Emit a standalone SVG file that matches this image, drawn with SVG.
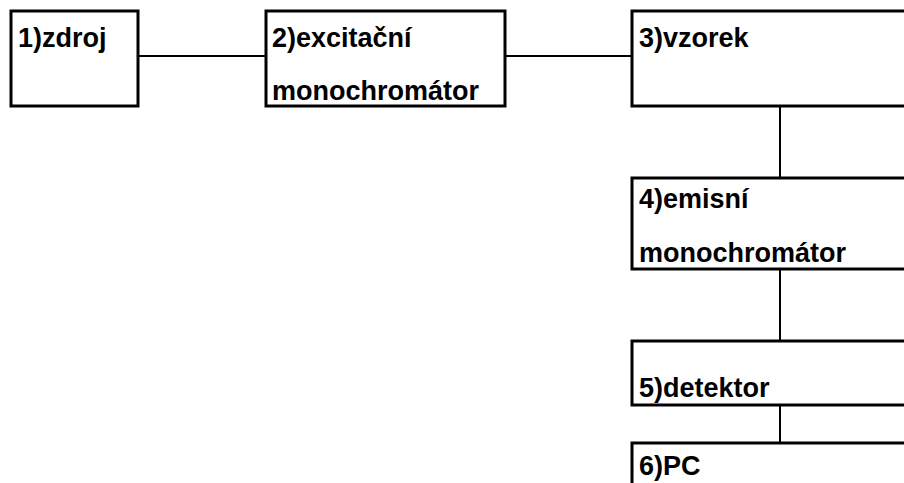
<svg xmlns="http://www.w3.org/2000/svg" width="904" height="483" viewBox="0 0 904 483">
<style>
.box{fill:#fff;stroke:#000;stroke-width:3}
.ln{stroke:#000;stroke-width:2;fill:none}
text{font-family:"Liberation Sans",Arial,sans-serif;font-weight:bold;font-size:27px;fill:#000}
</style>
<rect width="904" height="483" fill="#fff"/>
<g id="connectors">
<line class="ln" x1="138" y1="56" x2="265" y2="56"/>
<line class="ln" x1="505" y1="56" x2="632" y2="56"/>
<line class="ln" x1="780" y1="106" x2="780" y2="178"/>
<line class="ln" x1="780" y1="269" x2="780" y2="341"/>
<line class="ln" x1="780" y1="405" x2="780" y2="443"/>
</g>
<g id="n1"><rect class="box" x="11" y="11" width="127" height="95"/><text x="18" y="47">1)zdroj</text></g>
<g id="n2"><rect class="box" x="266" y="11" width="239" height="95"/><text x="272" y="47">2)excitační</text><text x="272" y="100">monochromátor</text></g>
<g id="n3"><rect class="box" x="632" y="11" width="280" height="95"/><text x="639" y="47">3)vzorek</text></g>
<g id="n4"><rect class="box" x="632" y="178" width="280" height="91"/><text x="639" y="208">4)emisní</text><text x="639" y="262">monochromátor</text></g>
<g id="n5"><rect class="box" x="632" y="341" width="280" height="64"/><text x="639" y="397">5)detektor</text></g>
<g id="n6"><rect class="box" x="632" y="443" width="280" height="60"/><text x="639" y="475">6)PC</text></g>
</svg>
